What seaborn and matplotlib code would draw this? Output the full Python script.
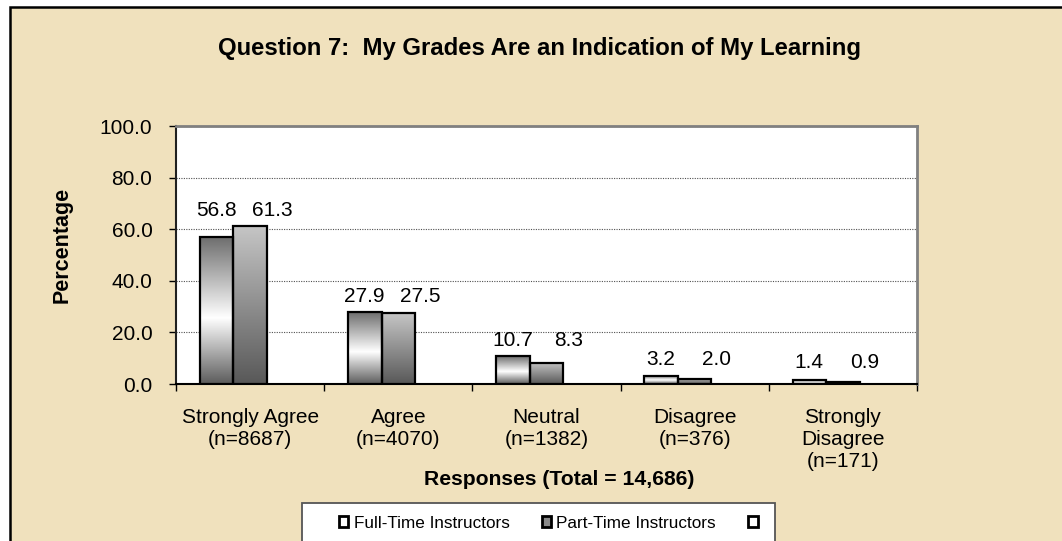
import numpy as np
import pandas as pd
import matplotlib.pyplot as plt
import matplotlib.ticker as mtick
from matplotlib.patches import Patch, Rectangle
from matplotlib.colors import LinearSegmentedColormap
import seaborn as sns

# Chart data
categories = ["Strongly Agree\n(n=8687)", "Agree\n(n=4070)", "Neutral\n(n=1382)",
              "Disagree\n(n=376)", "Strongly\nDisagree\n(n=171)"]
full_time = [56.8, 27.9, 10.7, 3.2, 1.4]
part_time = [61.3, 27.5, 8.3, 2.0, 0.9]
blank_series = [0.0, 0.0, 0.0, 0.0, 0.0]  # empty third series in the original legend
series = ["Full-Time", "Part-Time", "Blank"]
legend_labels = ["Full-Time Instructors", "Part-Time Instructors", ""]
y_ticks = [0, 20, 40, 60, 80, 100]

title = "Question 7:  My Grades Are an Indication of My Learning"
x_title = "Responses (Total = 14,686)"
y_title = "Percentage"

PAPER = "#F0E1BD"
W, H = 1062, 541

df = pd.DataFrame({
    "Response": categories * 3,
    "Percent": full_time + part_time + blank_series,
    "Series": [s for s in series for _ in categories],
})

sns.set_theme(style="white")
plt.rcParams["font.family"] = ["Liberation Sans", "DejaVu Sans"]
plt.rcParams.update({"text.color": "black", "axes.labelcolor": "black",
                     "xtick.color": "black", "ytick.color": "black"})

fig = plt.figure(figsize=(W / 100, H / 100), dpi=100, facecolor="white")

# parchment panel with black outer border (cut off at right/bottom)
fig.add_artist(Rectangle((10 / W, -0.05), 1.1, 1 - 7 / H + 0.05, transform=fig.transFigure,
                         facecolor=PAPER, edgecolor="black", lw=1.8, zorder=-10))

ax = fig.add_axes([176 / W, 1 - 384 / H, (917 - 176) / W, (384 - 126) / H])
ax.set_facecolor("white")

sns.barplot(data=df, x="Response", y="Percent", hue="Series", order=categories,
            hue_order=series, width=0.68, saturation=1, edgecolor="black",
            linewidth=1.6, legend=False, ax=ax, zorder=3)

# vertical gradient fills clipped to each bar
cmaps = [
    LinearSegmentedColormap.from_list("ft", [(0, "#5c5c5c"), (0.45, "#ffffff"), (1, "#6e6e6e")]),
    LinearSegmentedColormap.from_list("pt", [(0, "#585858"), (1, "#c6c6c6")]),
]
grad = np.linspace(0, 1, 256).reshape(-1, 1)
for container, cmap in zip(ax.containers[:2], cmaps):
    for bar in container:
        x0, y0 = bar.get_x(), bar.get_y()
        x1, y1 = x0 + bar.get_width(), y0 + bar.get_height()
        im = ax.imshow(grad, extent=[x0, x1, y0, y1], origin="lower", aspect="auto",
                       cmap=cmap, zorder=2.9)
        im.set_clip_path(bar)
        bar.set_facecolor("none")
for bar in ax.containers[2]:
    bar.set_visible(False)

ax.set_xlim(-0.5, len(categories) - 0.5)
ax.set_ylim(0, 100)

# data labels; labels in a group share one height
for i, (f, p) in enumerate(zip(full_time, part_time)):
    y = max(max(f, p) + 4, 6.3)
    b0 = ax.containers[0][i]
    b1 = ax.containers[1][i]
    ax.annotate(f"{f:.1f}", xy=(b0.get_x() + b0.get_width() / 2, y), ha="center",
                va="baseline", fontsize=15, color="black", zorder=5)
    ax.annotate(f"{p:.1f}", xy=(b1.get_x() + b1.get_width() / 2, y), xytext=(15.8, 0),
                textcoords="offset points", ha="center", va="baseline", fontsize=15,
                color="black", zorder=5)

# axes styling
ax.set_yticks(y_ticks)
ax.yaxis.set_major_formatter(mtick.StrMethodFormatter("{x:.1f}"))
ax.yaxis.grid(True, linestyle=(0, (1, 1.2)), color="#505050", lw=0.8, zorder=1)
ax.set_axisbelow(True)
ax.tick_params(axis="y", direction="out", length=5, width=1, color="black", pad=12,
               labelsize=15, labelcolor="black", left=True)
ax.tick_params(axis="x", which="major", length=0, pad=17, labelsize=15, labelcolor="black")
ax.set_xticks(np.arange(-0.5, len(categories)), minor=True)
ax.tick_params(axis="x", which="minor", direction="out", length=5, width=1,
               color="black", bottom=True)
ax.set_xlabel("")
ax.set_ylabel("")

for side in ["top", "right"]:
    ax.spines[side].set_color("#808080")
    ax.spines[side].set_linewidth(2)
ax.spines["left"].set_color("#202020")
ax.spines["left"].set_linewidth(1.5)
ax.spines["bottom"].set_color("black")
ax.spines["bottom"].set_linewidth(1.5)

# titles
fig.text(539.5 / W, 1 - 55 / H, title, ha="center", va="baseline", fontsize=17.2,
         fontweight="bold", color="black")
fig.text(559 / W, 1 - 485 / H, x_title, ha="center", va="baseline", fontsize=15.2,
         fontweight="bold", color="black")
fig.text(68 / W, 1 - 245 / H, y_title, ha="center", va="baseline", rotation=90,
         rotation_mode="anchor", fontsize=15.5, fontweight="bold", color="black")

# legend box at the bottom
fig.add_artist(Rectangle((302 / W, -0.02), 473 / W, 1 - 503 / H + 0.02,
                         transform=fig.transFigure, facecolor="white",
                         edgecolor="#555555", lw=1.3, zorder=1))
handles = [Patch(facecolor="white", edgecolor="black", lw=2),
           Patch(facecolor="#8a8a8a", edgecolor="black", lw=2),
           Patch(facecolor="white", edgecolor="black", lw=2)]
leg = fig.legend(handles, legend_labels, loc="center left",
                 bbox_to_anchor=(339 / W, 1 - 523 / H), ncol=3, frameon=False,
                 fontsize=12.3, handlelength=0.55, handleheight=0.55, handletextpad=0.3,
                 columnspacing=1.9, borderaxespad=0, borderpad=0)
for t in leg.get_texts():
    t.set_color("black")
leg.set_zorder(5)

plt.savefig("out.png", dpi=100, facecolor=fig.get_facecolor())
